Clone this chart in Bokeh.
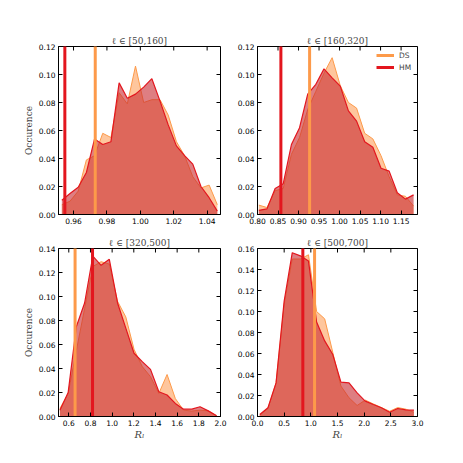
import math
from bokeh.plotting import figure
from bokeh.layouts import gridplot
from bokeh.models import (Range1d, FixedTicker, NumeralTickFormatter, Legend, LegendItem)
from bokeh.embed import file_html
from bokeh.resources import INLINE

# ---------------- data ----------------
titles = ["ℓ ∈ [50,160]", "ℓ ∈ [160,320]", "ℓ ∈ [320,500]", "ℓ ∈ [500,700]"]
series_names = ["DS", "HM"]

p1_x = [0.9530, 0.9579, 0.9628, 0.9677, 0.9726, 0.9775, 0.9824, 0.9873, 0.9922, 0.9971,
        1.0020, 1.0069, 1.0118, 1.0167, 1.0216, 1.0265, 1.0314, 1.0363, 1.0412, 1.0461]
p1_ds = [0.0070, 0.0095, 0.0167, 0.0390, 0.0420, 0.0580, 0.0550, 0.0870, 0.0790, 0.1060,
         0.0800, 0.0820, 0.0820, 0.0710, 0.0520, 0.0420, 0.0270, 0.0190, 0.0210, 0.0070]
p1_hm = [0.0102, 0.0150, 0.0195, 0.0300, 0.0540, 0.0500, 0.0520, 0.0940, 0.0830, 0.0860,
         0.0910, 0.0970, 0.0810, 0.0640, 0.0490, 0.0420, 0.0360, 0.0200, 0.0120, 0.0024]

p2_x = [0.8032, 0.8231, 0.8430, 0.8628, 0.8827, 0.9025, 0.9224, 0.9422, 0.9621, 0.9819,
        1.0018, 1.0216, 1.0415, 1.0613, 1.0812, 1.1011, 1.1209, 1.1408, 1.1606, 1.1805]
p2_ds = [0.0067, 0.0050, 0.0170, 0.0186, 0.0430, 0.0550, 0.0750, 0.0880, 0.1010, 0.1120,
         0.0920, 0.0800, 0.0760, 0.0580, 0.0540, 0.0420, 0.0270, 0.0140, 0.0130, 0.0060]
p2_hm = [0.0030, 0.0040, 0.0186, 0.0220, 0.0500, 0.0620, 0.0860, 0.0930, 0.1040, 0.0976,
         0.0917, 0.0740, 0.0667, 0.0520, 0.0480, 0.0330, 0.0310, 0.0155, 0.0110, 0.0140]

p3_x = [0.518, 0.594, 0.670, 0.746, 0.822, 0.898, 0.974, 1.050, 1.126, 1.202,
        1.278, 1.354, 1.431, 1.507, 1.583, 1.659, 1.735, 1.811, 1.887, 1.964]
p3_ds = [0.0067, 0.0190, 0.0550, 0.0900, 0.1250, 0.1290, 0.1270, 0.0960, 0.0830, 0.0560,
         0.0416, 0.0332, 0.0192, 0.0350, 0.0150, 0.0053, 0.0045, 0.0053, 0.0047, 0.0006]
p3_hm = [0.0053, 0.0200, 0.0750, 0.0946, 0.1336, 0.1260, 0.1310, 0.0946, 0.0736, 0.0527,
         0.0457, 0.0393, 0.0206, 0.0179, 0.0109, 0.0061, 0.0061, 0.0081, 0.0047, 0.0006]

p4_x = [0.043, 0.196, 0.348, 0.500, 0.652, 0.804, 0.956, 1.108, 1.260, 1.412,
        1.564, 1.716, 1.868, 2.020, 2.172, 2.324, 2.477, 2.629, 2.781, 2.933]
p4_ds = [0.0013, 0.0076, 0.0320, 0.1070, 0.1500, 0.1500, 0.1540, 0.1000, 0.0930, 0.0610,
         0.0290, 0.0178, 0.0105, 0.0156, 0.0120, 0.0085, 0.0050, 0.0085, 0.0070, 0.0040]
p4_hm = [0.0019, 0.0083, 0.0320, 0.1100, 0.1560, 0.1530, 0.1480, 0.0900, 0.0720, 0.0590,
         0.0327, 0.0320, 0.0225, 0.0146, 0.0114, 0.0083, 0.0041, 0.0076, 0.0063, 0.0060]

vline_ds = [0.973, 0.927, 0.658, 1.070]
vline_hm = [0.9548, 0.857, 0.819, 0.850]

x_ticks_1 = [0.96, 0.98, 1.00, 1.02, 1.04]
x_ticks_2 = [0.80, 0.85, 0.90, 0.95, 1.00, 1.05, 1.10, 1.15]
x_ticks_3 = [0.6, 0.8, 1.0, 1.2, 1.4, 1.6, 1.8, 2.0]
x_ticks_4 = [0.0, 0.5, 1.0, 1.5, 2.0, 2.5, 3.0]
y_ticks_1 = [0.00, 0.02, 0.04, 0.06, 0.08, 0.10, 0.12]
y_ticks_2 = [0.00, 0.02, 0.04, 0.06, 0.08, 0.10, 0.12]
y_ticks_3 = [0.00, 0.02, 0.04, 0.06, 0.08, 0.10, 0.12, 0.14]
y_ticks_4 = [0.00, 0.02, 0.04, 0.06, 0.08, 0.10, 0.12, 0.14, 0.16]

x_limits = [(0.951, 1.048), (0.800, 1.190), (0.505, 2.000), (0.0, 3.0)]
y_limits = [(0.0, 0.12), (0.0, 0.12), (0.0, 0.14), (0.0, 0.16)]
x_formats = ["0.00", "0.00", "0.0", "0.0"]

# ---------------- styling ----------------
DS_LINE = "#FD9A4A"
DS_FILL = "#FD8D3C"
HM_LINE = "#E3161E"
HM_FILL = "#C8282F"
TICK_FONT = "7.5px"


def style_axis(ax, ticks, fmt):
    ax.ticker = FixedTicker(ticks=ticks)
    ax.formatter = NumeralTickFormatter(format=fmt)
    ax.major_tick_in = 4
    ax.major_tick_out = 0
    ax.minor_tick_line_color = None
    ax.axis_line_color = "black"
    ax.major_tick_line_color = "black"
    ax.major_label_text_font = "DejaVu Sans"
    ax.major_label_text_color = "black"
    ax.major_label_text_font_size = TICK_FONT
    ax.major_label_standoff = 3


def make_panel(i, xs, ds, hm, width, height, borders, xlabel, ylabel, legend):
    bl, br, bt, bb = borders
    x0, x1 = x_limits[i]
    y0, y1 = y_limits[i]
    p = figure(width=width, height=height, output_backend="svg", toolbar_location=None,
               x_range=Range1d(x0, x1), y_range=Range1d(y0, y1),
               min_border_left=bl, min_border_right=br, min_border_top=bt,
               min_border_bottom=bb)
    p.grid.visible = False
    p.outline_line_color = "black"
    p.outline_line_width = 1
    p.background_fill_color = "white"
    p.border_fill_color = "white"

    p.title.text = titles[i]
    p.title.align = "center"
    p.title.text_font = "DejaVu Serif"
    p.title.text_font_size = "9px"
    p.title.text_font_style = "normal"
    p.title.standoff = 2

    xt = [x_ticks_1, x_ticks_2, x_ticks_3, x_ticks_4][i]
    yt = [y_ticks_1, y_ticks_2, y_ticks_3, y_ticks_4][i]
    xax = p.xaxis[0]
    yax = p.yaxis[0]
    style_axis(xax, xt, x_formats[i])
    style_axis(yax, yt, "0.00")

    if xlabel:
        xax.axis_label = xlabel
        xax.axis_label_text_font = "DejaVu Serif"
        xax.axis_label_text_font_size = "10px"
        xax.axis_label_text_font_style = "italic"
        xax.axis_label_standoff = 0
    if ylabel:
        yax.axis_label = ylabel
        yax.axis_label_text_font = "DejaVu Serif"
        yax.axis_label_text_font_size = "9px"
        yax.axis_label_text_font_style = "normal"
        yax.axis_label_standoff = 2

    p.varea(x=xs, y1=[0] * len(xs), y2=ds, fill_color=DS_FILL, fill_alpha=0.5)
    p.line(xs, ds, line_color=DS_LINE, line_width=1)
    p.varea(x=xs, y1=[0] * len(xs), y2=hm, fill_color=HM_FILL, fill_alpha=0.6)
    p.line(xs, hm, line_color=HM_LINE, line_width=1.2)

    r_ds = p.ray(x=[vline_ds[i]], y=[y0], length=0, angle=90,
                 angle_units="deg", line_color=DS_LINE, line_width=3)
    r_hm = p.ray(x=[vline_hm[i]], y=[y0], length=0, angle=90,
                 angle_units="deg", line_color=HM_LINE, line_width=3)

    # inward ticks on the top and right edges (half of each dash is clipped by the frame)
    p.scatter(x=xt, y=[y1] * len(xt), marker="dash", size=8, angle=math.pi / 2,
              line_color="black", line_width=1)
    p.scatter(x=[x1] * len(yt), y=yt, marker="dash", size=8,
              line_color="black", line_width=1)

    if legend:
        lg = Legend(items=[LegendItem(label=series_names[0], renderers=[r_ds]),
                           LegendItem(label=series_names[1], renderers=[r_hm])],
                    location=(119, 142))
        lg.border_line_color = None
        lg.background_fill_alpha = 0
        lg.label_text_font = "DejaVu Sans"
        lg.label_text_font_size = TICK_FONT
        lg.glyph_width = 18
        lg.glyph_height = 10
        lg.label_height = 10
        lg.label_standoff = 5
        lg.spacing = 2
        lg.padding = 4
        lg.margin = 0
        p.add_layout(lg)
    return p


p1 = make_panel(0, p1_x, p1_ds, p1_hm, 228, 232, (58, 8, 46, 18), None, "Occurence", False)
p2 = make_panel(1, p2_x, p2_ds, p2_hm, 230, 232, (29, 41, 46, 18), None, None, True)
p3 = make_panel(2, p3_x, p3_ds, p3_hm, 228, 223, (58, 8, 16, 39), "Rₗ", "Occurence", False)
p4 = make_panel(3, p4_x, p4_ds, p4_hm, 230, 223, (29, 41, 16, 39), "Rₗ", None, False)

grid = gridplot([[p1, p2], [p3, p4]], toolbar_location=None)

open("out.html", "w").write(file_html(grid, INLINE))
